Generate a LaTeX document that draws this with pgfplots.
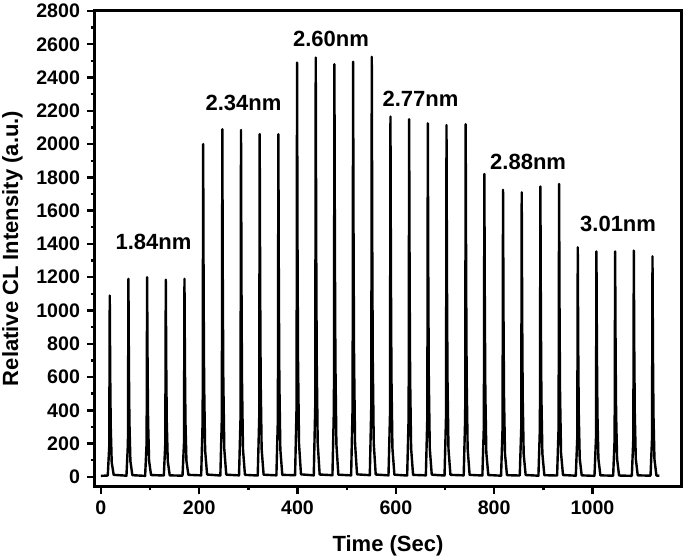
\documentclass[border=0pt]{standalone}
\usepackage{fontspec}
\setmainfont{Liberation Sans}
\usepackage{pgfplots}
\usepackage{pgfplotstable}
\pgfplotsset{compat=1.18}

% CL trace: time (s) vs intensity (a.u.)
\pgfplotstableread{
t I
0 6
14 8
17 185
18 1090
19 600
20 305
22 87
26 12
52 7
55 202
56 1190
57 655
58 333
60 95
64 10
90 6
93 204
94 1200
95 660
96 336
98 96
102 11
128 8
131 201
132 1185
133 652
134 332
136 95
140 9
166 7
169 202
170 1190
171 655
172 333
174 95
178 12
204 9
207 340
208 2000
209 1100
210 560
212 160
216 14
243 8
246 355
247 2090
248 1150
249 585
251 167
255 13
281 9
284 354
285 2085
286 1147
287 584
289 167
293 12
319 8
322 350
323 2060
324 1133
325 577
327 165
331 13
357 9
360 350
361 2060
362 1133
363 577
365 165
369 12
395 10
398 423
399 2490
400 1370
401 697
403 199
407 15
433 9
436 428
437 2520
438 1386
439 706
441 202
445 14
471 10
474 422
475 2480
476 1364
477 694
479 198
483 13
509 9
512 424
513 2495
514 1372
515 699
517 200
521 15
547 10
550 429
551 2525
552 1389
553 707
555 202
559 14
585 9
588 368
589 2165
590 1191
591 606
593 173
597 13
623 8
626 366
627 2150
628 1183
629 602
631 172
635 12
661 9
664 361
665 2125
666 1169
667 595
669 170
673 13
699 8
702 360
703 2115
704 1163
705 592
707 169
711 12
738 9
741 360
742 2120
743 1166
744 594
746 170
750 12
776 8
779 309
780 1820
781 1001
782 510
784 146
788 11
814 7
817 293
818 1725
819 949
820 483
822 138
826 10
852 8
855 291
856 1710
857 941
858 479
860 137
864 11
890 7
893 297
894 1745
895 960
896 489
898 140
902 10
928 8
931 299
932 1760
933 968
934 493
936 141
940 11
966 7
969 235
970 1380
971 759
972 386
974 110
978 9
1004 6
1007 230
1008 1355
1009 745
1010 379
1012 108
1016 9
1042 7
1045 230
1046 1355
1047 745
1048 379
1050 108
1054 8
1080 6
1083 231
1084 1360
1085 748
1086 381
1088 109
1092 9
1118 7
1121 225
1122 1325
1123 729
1124 371
1126 106
1130 8
1136 6
}\cltrace

\begin{document}
\begin{tikzpicture}
\begin{axis}[
  scale only axis,
  width=293pt, height=237.5pt,
  xmin=-12, xmax=1180, ymin=-55, ymax=2800,
  xtick={0,200,...,1000}, ytick={0,200,...,2800},
  minor x tick num=1, minor y tick num=1,
  tick align=outside, xtick pos=bottom, ytick pos=left,
  major tick length=4pt, minor tick length=2.2pt,
  axis line style={line width=1.5pt},
  every tick/.style={line width=1.2pt, black},
  tick label style={font=\fontsize{9.8}{10}\selectfont\bfseries},
  /pgf/number format/assume math mode=true,
  /pgf/number format/1000 sep={},
  label style={font=\fontsize{11}{12}\selectfont\bfseries},
  xlabel={Time (Sec)},
  xlabel style={yshift=-3.5pt},
  ylabel={Relative CL Intensity (a.u.)},
]
\addplot[black, line width=1.2pt, line join=round] table[x=t, y=I] {\cltrace};

\begin{scope}[every node/.style={font=\fontsize{11}{12}\selectfont\bfseries}]
\node at (axis cs:107,1415) {1.84nm};
\node at (axis cs:290,2250) {2.34nm};
\node at (axis cs:468,2632) {2.60nm};
\node at (axis cs:650,2271) {2.77nm};
\node at (axis cs:869,1890) {2.88nm};
\node at (axis cs:1052,1520) {3.01nm};
\end{scope}
\end{axis}
\pgfresetboundingbox
\path[use as bounding box] ([xshift=-47.5pt,yshift=-36pt]current axis.south west)
  rectangle ([xshift=2pt,yshift=5.5pt]current axis.north east);
\end{tikzpicture}
\end{document}
